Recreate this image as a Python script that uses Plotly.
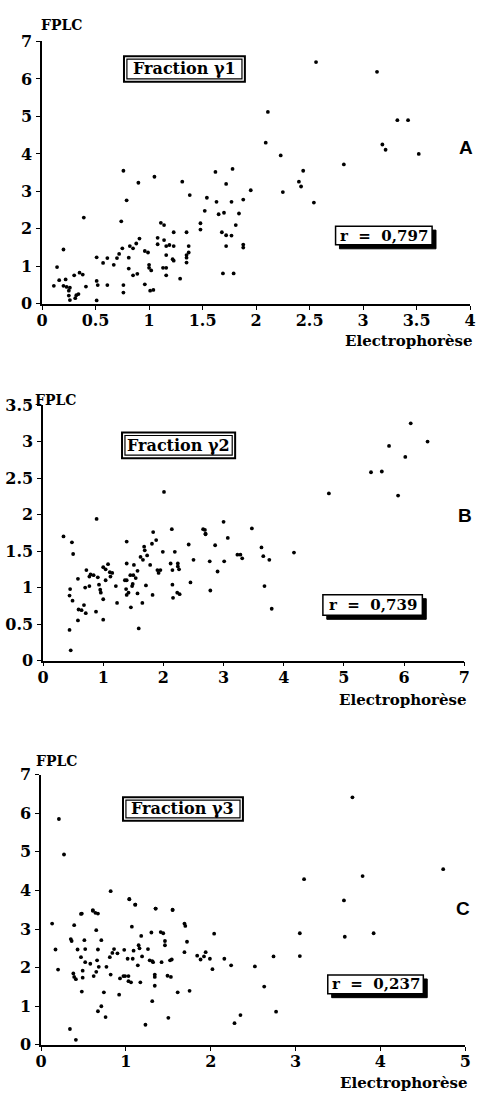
import plotly.graph_objects as go

# ---------------- DATA ----------------
a_x = [0.76, 0.90, 1.05, 1.31, 1.62, 1.78, 1.72, 1.38, 0.79, 0.39, 0.74, 1.11, 1.14, 1.23, 1.35,
       1.48, 1.48, 1.52, 1.54, 1.63, 1.65, 1.70, 1.77, 1.84, 1.88, 1.95, 1.81, 1.68, 1.72, 1.77,
       1.72, 1.88, 1.88, 1.69, 1.79, 2.25, 2.40, 2.42, 2.44, 2.54,
       0.11, 0.14, 0.16, 0.20, 0.22, 0.20, 0.23, 0.25, 0.25, 0.26, 0.30, 0.31, 0.32, 0.35, 0.38,
       0.41, 0.26, 0.34, 0.51, 0.51, 0.52, 0.51, 0.57, 0.61, 0.61, 0.67, 0.70, 0.72, 0.75, 0.76,
       0.76, 0.81, 0.81, 0.82, 0.85, 0.85, 0.88, 0.91, 0.89, 0.96, 0.99, 0.96, 1.00, 1.00, 1.02,
       1.01, 1.04, 1.08, 1.08, 1.14, 1.16, 1.19, 1.23, 1.16, 1.13, 1.16, 1.16, 1.22, 1.23, 1.29,
       1.35, 1.35, 1.37, 1.37, 1.35,
       2.56, 3.13, 2.11, 2.09, 2.23, 3.32, 3.42, 3.18, 3.21, 3.52, 2.82]
a_y = [3.55, 3.23, 3.39, 3.26, 3.52, 3.60, 3.20, 2.90, 2.76, 2.30, 2.20, 2.16, 2.10, 1.91, 1.91,
       2.15, 1.98, 2.48, 2.83, 2.72, 2.39, 2.43, 2.72, 2.41, 2.78, 3.03, 2.10, 1.91, 1.83, 1.82,
       1.54, 1.58, 1.50, 0.81, 0.81, 2.98, 3.26, 3.13, 3.55, 2.70,
       0.48, 0.98, 0.63, 1.45, 0.65, 0.48, 0.45, 0.35, 0.22, 0.10, 0.76, 0.15, 0.23, 0.83, 0.78,
       0.46, 0.43, 0.26, 1.24, 0.61, 0.50, 0.09, 1.09, 1.22, 0.50, 1.04, 1.22, 1.33, 1.48, 0.50,
       0.30, 1.23, 0.94, 1.54, 1.48, 0.76, 1.61, 1.74, 0.80, 1.41, 1.37, 0.52, 1.04, 0.96, 0.89,
       0.35, 0.37, 1.76, 1.59, 1.70, 1.54, 1.57, 1.54, 1.30, 0.96, 0.96, 0.76, 1.19, 1.15, 0.67,
       1.10, 1.30, 1.37, 1.54, 1.23,
       6.45, 6.19, 5.12, 4.30, 3.96, 4.90, 4.90, 4.25, 4.11, 4.00, 3.72]

b_x = [6.11, 6.39, 5.75, 6.02, 5.45, 5.63, 5.90, 4.75, 2.01, 0.89, 1.83, 2.14, 2.66, 3.00, 3.47, 2.70,
       0.34, 0.48, 0.50, 0.45, 0.44, 0.49, 0.44, 0.46, 0.58, 0.58, 0.59, 0.64, 0.68, 0.70, 0.71,
       0.72, 0.77, 0.79, 0.77, 0.84, 0.88, 0.91, 0.93, 0.95, 0.96, 1.00, 1.00, 1.00, 1.04, 1.08,
       1.04, 1.11, 1.12, 1.15, 1.21, 1.23, 1.39, 1.39, 1.36, 1.39, 1.38, 1.39, 1.42, 1.45, 1.46,
       1.48, 1.49, 1.50, 1.51, 1.54, 1.57, 1.57, 1.59, 1.62, 1.65, 1.66, 1.68, 1.69, 1.71, 1.73,
       1.78, 1.81, 1.82, 1.88, 1.90, 1.92, 1.95, 1.99, 2.12, 2.15, 2.15, 2.16, 2.19, 2.24, 2.24,
       2.26, 2.23, 2.27, 2.42, 2.45, 2.50, 2.69, 2.70, 2.77, 2.78, 2.86, 2.90, 3.01, 3.07, 3.23,
       3.28, 3.31, 3.63, 3.66, 3.68, 3.76, 3.80, 4.17]
b_y = [3.25, 3.00, 2.94, 2.79, 2.58, 2.59, 2.26, 2.29, 2.31, 1.94, 1.76, 1.80, 1.80, 1.90, 1.81, 1.74,
       1.70, 1.62, 1.46, 0.98, 0.89, 0.82, 0.42, 0.14, 1.12, 0.55, 0.70, 0.69, 0.76, 1.00, 0.65,
       1.24, 1.15, 1.18, 1.02, 1.17, 0.67, 1.14, 1.04, 0.97, 0.93, 1.28, 0.84, 0.56, 1.25, 1.32,
       1.10, 1.21, 1.15, 1.20, 1.02, 0.79, 1.63, 1.33, 1.10, 1.10, 0.98, 0.90, 0.93, 1.17, 0.73,
       1.02, 1.05, 1.17, 1.31, 1.13, 1.23, 0.92, 0.44, 1.42, 0.79, 1.38, 1.56, 1.51, 1.03, 1.44,
       1.31, 1.60, 0.90, 1.65, 1.24, 1.20, 1.24, 1.49, 1.33, 1.24, 1.04, 0.86, 1.49, 1.33, 1.29,
       1.25, 0.93, 0.91, 1.59, 1.07, 1.38, 1.79, 1.73, 1.36, 0.96, 1.58, 1.22, 1.36, 1.68, 1.45,
       1.45, 1.40, 1.55, 1.43, 1.02, 1.38, 0.71, 1.48]

c_x = [0.21, 0.27, 0.82, 0.48, 0.61, 0.67, 1.04, 1.11, 1.35, 1.55, 3.10, 3.67, 3.79, 4.74, 3.57,
       0.13, 0.17, 0.20, 0.34, 0.41, 0.35, 0.36, 0.39, 0.38, 0.39, 0.41, 0.43, 0.47, 0.47, 0.49,
       0.49, 0.48, 0.51, 0.52, 0.52, 0.58, 0.61, 0.62, 0.64, 0.65, 0.66, 0.65, 0.67, 0.68, 0.67,
       0.71, 0.71, 0.74, 0.76, 0.77, 0.81, 0.82, 0.84, 0.86, 0.90, 0.92, 0.93, 0.97, 0.98, 0.99,
       1.02, 1.04, 1.03, 1.03, 1.06, 1.07, 1.08, 1.09, 1.11, 1.14, 1.15, 1.16, 1.17, 1.18, 1.19,
       1.23, 1.26, 1.28, 1.30, 1.31, 1.31, 1.34, 1.34, 1.34, 1.35, 1.32, 1.41, 1.44, 1.46, 1.46,
       1.42, 1.49, 1.50, 1.53, 1.52, 1.54, 1.55, 1.61, 1.69, 1.70, 1.69, 1.72, 1.75, 1.84, 1.88,
       1.92, 1.94, 1.99, 2.02, 2.04, 2.16, 2.24, 2.28, 2.35, 2.52, 2.63, 2.74, 2.77, 3.05, 3.05,
       3.58, 3.92]
c_y = [5.85, 4.93, 3.98, 3.40, 3.49, 3.40, 3.78, 3.63, 3.53, 3.49, 4.29, 6.41, 4.37, 4.55, 3.74,
       3.14, 2.47, 1.95, 0.41, 0.13, 2.74, 2.69, 3.10, 1.85, 1.76, 1.70, 2.47, 3.39, 2.27, 1.92,
       1.74, 1.38, 2.71, 2.14, 2.48, 2.10, 3.47, 1.78, 3.42, 2.97, 2.19, 1.89, 2.47, 2.02, 0.87,
       2.71, 1.00, 1.36, 0.72, 2.02, 2.27, 1.82, 2.38, 2.48, 2.37, 1.30, 1.72, 1.78, 2.46, 1.78,
       2.23, 3.77, 1.78, 1.65, 1.62, 3.06, 2.23, 2.44, 3.63, 2.06, 2.58, 2.50, 1.62, 2.82, 2.29,
       0.52, 2.48, 2.19, 2.91, 2.17, 1.13, 1.82, 1.76, 1.53, 3.53, 2.14, 2.92, 2.89, 2.69, 2.58,
       2.14, 1.79, 0.70, 1.76, 2.19, 2.21, 3.50, 1.36, 3.14, 3.08, 2.40, 2.67, 1.40, 2.31, 2.21,
       2.29, 2.40, 2.23, 1.96, 2.88, 2.23, 2.06, 0.56, 0.77, 2.03, 1.51, 2.29, 0.86, 2.89, 2.30,
       2.80, 2.89]

a_xticks = [0, 0.5, 1, 1.5, 2, 2.5, 3, 3.5, 4]
b_xticks = [0, 1, 2, 3, 4, 5, 6, 7]
c_xticks = [0, 1, 2, 3, 4, 5]
a_yticks = [0, 1, 2, 3, 4, 5, 6, 7]
b_yticks = [0, 0.5, 1, 1.5, 2, 2.5, 3, 3.5]
c_yticks = [0, 1, 2, 3, 4, 5, 6, 7]

panel_letters = ["A", "B", "C"]
fraction_labels = ["Fraction γ1", "Fraction γ2", "Fraction γ3"]
r_labels = ["r  =  0,797", "r  =  0,739", "r  =  0,237"]

# ---------------- LAYOUT ----------------
W, H = 481, 1103
def px(x):
    return x / W
def py(y):
    return 1 - y / H

SERIF = "DejaVu Serif"
tickfont = dict(family=SERIF, size=16, color="black", weight="bold")

fig = go.Figure()
for i, (xs, ys) in enumerate([(a_x, a_y), (b_x, b_y), (c_x, c_y)]):
    suffix = "" if i == 0 else str(i + 1)
    fig.add_trace(go.Scatter(x=xs, y=ys, mode="markers",
                             marker=dict(color="black", size=3.8),
                             xaxis="x" + suffix, yaxis="y" + suffix,
                             showlegend=False, hoverinfo="x+y"))

# panel geometry in pixels: (x0, x1, y_bottom, y_top)
geo = [(37, 476, 300, 33), (38, 470, 663, 403), (36, 471, 1054, 779)]
xr = [[0, 4], [0, 7], [0, 5]]
yr = [[0, 7], [0, 3.5], [0, 7]]
xt = [a_xticks, b_xticks, c_xticks]
yt = [a_yticks, b_yticks, c_yticks]

axis_common = dict(showgrid=False, zeroline=False, showline=True, linecolor="black",
                   linewidth=1.5, ticks="outside", ticklen=4, tickwidth=1.2,
                   tickcolor="black", tickfont=tickfont, fixedrange=True)

layout = dict(width=W, height=H, margin=dict(l=0, r=0, t=0, b=0),
              paper_bgcolor="white", plot_bgcolor="white", showlegend=False)
for i in range(3):
    x0, x1, yb, ytop = geo[i]
    suffix = "" if i == 0 else str(i + 1)
    layout["xaxis" + suffix] = dict(axis_common, domain=[px(x0), px(x1)], range=xr[i],
                                    tickvals=xt[i], anchor="y" + suffix, ticklabelstandoff=-3)
    layout["yaxis" + suffix] = dict(axis_common, domain=[py(yb), py(ytop)], range=yr[i],
                                    tickvals=yt[i], anchor="x" + suffix, ticklabelstandoff=1)
fig.update_layout(**layout)

# text positions / boxes in pixels
fplc_pos = [(57, 16), (51, 398), (52, 765)]
elec_pos = [(480, 338), (474, 703), (475, 1093)]
letter_pos = [(472, 141), (471, 515), (469, 915)]
frac_box = [(121, 48, 245, 74), (119, 431, 235, 457), (120, 802, 243, 826)]
r_box = [(338, 221, 437, 240), (325, 596, 427, 617), (330, 983, 428, 1002)]

shapes = []
annotations = []
for i in range(3):
    fx, fy = fplc_pos[i]
    annotations.append(dict(x=px(fx), y=py(fy), xref="paper", yref="paper", text="FPLC",
                            showarrow=False, xanchor="center", yanchor="middle",
                            font=dict(family=SERIF, size=14, color="black", weight="bold")))
    ex, ey = elec_pos[i]
    annotations.append(dict(x=px(ex), y=py(ey), xref="paper", yref="paper", text="Electrophorèse",
                            showarrow=False, xanchor="right", yanchor="middle",
                            font=dict(family=SERIF, size=15, color="black", weight="bold")))
    lx, ly = letter_pos[i]
    annotations.append(dict(x=px(lx), y=py(ly), xref="paper", yref="paper", text=panel_letters[i],
                            showarrow=False, xanchor="center", yanchor="middle",
                            font=dict(family="Liberation Sans", size=19, color="black", weight="bold")))
    # fraction box (double frame)
    bx0, by0, bx1, by1 = frac_box[i]
    shapes.append(dict(type="rect", xref="paper", yref="paper", x0=px(bx0), x1=px(bx1),
                       y0=py(by1), y1=py(by0), line=dict(color="black", width=2),
                       fillcolor="white", layer="above"))
    shapes.append(dict(type="rect", xref="paper", yref="paper", x0=px(bx0 + 3), x1=px(bx1 - 3),
                       y0=py(by1 - 3), y1=py(by0 + 3), line=dict(color="black", width=1.2),
                       layer="above"))
    annotations.append(dict(x=px((bx0 + bx1) / 2), y=py((by0 + by1) / 2), xref="paper", yref="paper",
                            text=fraction_labels[i], showarrow=False, xanchor="center", yanchor="middle",
                            font=dict(family=SERIF, size=16, color="black", weight="bold")))
    # r box with drop shadow
    rx0, ry0, rx1, ry1 = r_box[i]
    shapes.append(dict(type="rect", xref="paper", yref="paper", x0=px(rx0 + 4), x1=px(rx1 + 4),
                       y0=py(ry1 + 4), y1=py(ry0 + 4), line=dict(color="black", width=1),
                       fillcolor="black", layer="above"))
    shapes.append(dict(type="rect", xref="paper", yref="paper", x0=px(rx0), x1=px(rx1),
                       y0=py(ry1), y1=py(ry0), line=dict(color="black", width=1.5),
                       fillcolor="white", layer="above"))
    annotations.append(dict(x=px((rx0 + rx1) / 2), y=py((ry0 + ry1) / 2), xref="paper", yref="paper",
                            text=r_labels[i], showarrow=False, xanchor="center", yanchor="middle",
                            font=dict(family=SERIF, size=15, color="black", weight="bold")))

fig.update_layout(shapes=shapes, annotations=annotations)
fig.write_html("out.html", config={"displayModeBar": False},
               post_script="document.body.style.margin='0';document.body.style.padding='0';"
                           "document.documentElement.style.overflow='hidden';")
